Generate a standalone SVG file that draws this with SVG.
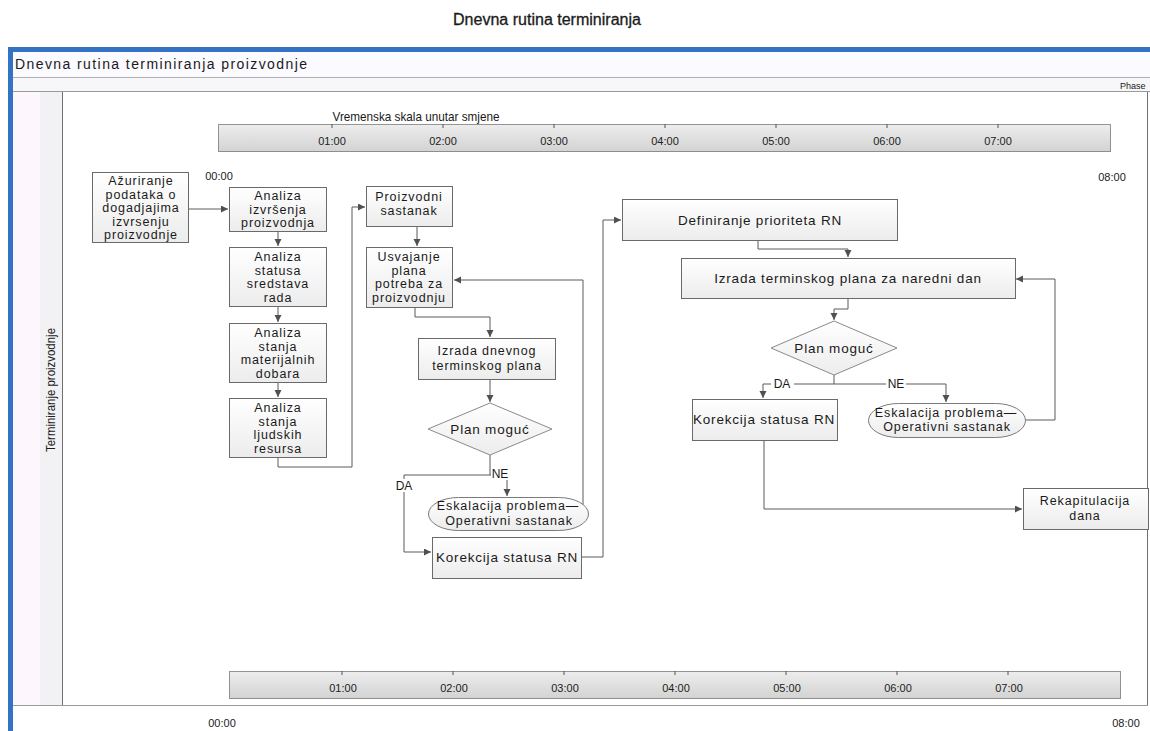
<svg xmlns="http://www.w3.org/2000/svg" width="1150" height="731" viewBox="0 0 1150 731">
<style>
.t{font-family:"Liberation Sans",Arial,sans-serif;fill:#1a1a1a}
.n{font-size:13.5px;letter-spacing:0.8px;text-anchor:middle}
.m{font-size:12.5px;letter-spacing:0.9px;text-anchor:middle}
.box{fill:url(#bg);stroke:#6a6a6a;stroke-width:1}
.c{fill:none;stroke:#5a5a5a;stroke-width:1}
.tm{font-size:11px;text-anchor:middle;fill:#222}
.lbl{font-size:12px;text-anchor:middle}
</style>
<defs>
<linearGradient id="bg" x1="0" y1="0" x2="0" y2="1"><stop offset="0" stop-color="#ffffff"/><stop offset="1" stop-color="#ececec"/></linearGradient>
<linearGradient id="tg" x1="0" y1="0" x2="0" y2="1"><stop offset="0" stop-color="#ededed"/><stop offset="1" stop-color="#d3d3d3"/></linearGradient>
<marker id="a" markerWidth="8" markerHeight="8" refX="7" refY="3.5" orient="auto" markerUnits="userSpaceOnUse"><path d="M0,0 L7,3.5 L0,7 z" fill="#505050"/></marker>
</defs>
<rect width="1150" height="731" fill="#ffffff"/>
<text class="t" x="547" y="25" font-size="16" text-anchor="middle" textLength="188" lengthAdjust="spacingAndGlyphs" stroke="#1a1a1a" stroke-width="0.3">Dnevna rutina terminiranja</text>

<g id="frame">
<rect x="13" y="52" width="1140" height="25" fill="#fbfaff"/>
<line x1="13" y1="77.5" x2="1150" y2="77.5" stroke="#b0b0b0"/>
<rect x="13" y="78" width="1140" height="13" fill="#f7f7f9"/>
<line x1="13" y1="91.5" x2="1150" y2="91.5" stroke="#9a9a9a"/>
<text class="t" x="15" y="69" font-size="14" textLength="292" lengthAdjust="spacing">Dnevna rutina terminiranja proizvodnje</text>
<text class="t" x="1120" y="89" font-size="9">Phase</text>
<rect x="13" y="92" width="27" height="613" fill="#fdf7fd"/>
<rect x="40" y="92" width="22" height="613" fill="#f2f2f4"/>
<line x1="62.5" y1="92" x2="62.5" y2="705" stroke="#707070"/>
<line x1="13" y1="705.5" x2="1148" y2="705.5" stroke="#9a9a9a"/>
<line x1="1147.5" y1="92" x2="1147.5" y2="705" stroke="#707070"/>
<text class="t" transform="translate(55,390) rotate(-90)" font-size="12" text-anchor="middle" textLength="124" lengthAdjust="spacingAndGlyphs">Terminiranje proizvodnje</text>
<rect x="10.5" y="49.5" width="1150" height="700" fill="none" stroke="#3472c4" stroke-width="5"/>
</g>

<g id="timescale-top">
<text class="t" x="416" y="121" font-size="13" text-anchor="middle" textLength="167" lengthAdjust="spacingAndGlyphs">Vremenska skala unutar smjene</text>
<rect x="218.5" y="124.5" width="892" height="27" fill="url(#tg)" stroke="#333" stroke-dasharray="1,1"/>
<g stroke="#555"><line x1="332" y1="124" x2="332" y2="128"/><line x1="443" y1="124" x2="443" y2="128"/><line x1="554" y1="124" x2="554" y2="128"/><line x1="665" y1="124" x2="665" y2="128"/><line x1="776" y1="124" x2="776" y2="128"/><line x1="887" y1="124" x2="887" y2="128"/><line x1="998" y1="124" x2="998" y2="128"/></g>
<text class="t tm" x="332" y="145">01:00</text><text class="t tm" x="443" y="145">02:00</text><text class="t tm" x="554" y="145">03:00</text><text class="t tm" x="665" y="145">04:00</text><text class="t tm" x="776" y="145">05:00</text><text class="t tm" x="887" y="145">06:00</text><text class="t tm" x="998" y="145">07:00</text>
<text class="t tm" x="219" y="180" font-size="10">00:00</text>
<text class="t tm" x="1112" y="181">08:00</text>
</g>

<g id="timescale-bottom">
<rect x="229.5" y="671.5" width="891" height="27" fill="url(#tg)" stroke="#333" stroke-dasharray="1,1"/>
<g stroke="#555"><line x1="342" y1="671" x2="342" y2="675"/><line x1="453" y1="671" x2="453" y2="675"/><line x1="564" y1="671" x2="564" y2="675"/><line x1="675" y1="671" x2="675" y2="675"/><line x1="786" y1="671" x2="786" y2="675"/><line x1="897" y1="671" x2="897" y2="675"/><line x1="1008" y1="671" x2="1008" y2="675"/></g>
<text class="t tm" x="343" y="692">01:00</text><text class="t tm" x="454" y="692">02:00</text><text class="t tm" x="565" y="692">03:00</text><text class="t tm" x="676" y="692">04:00</text><text class="t tm" x="787" y="692">05:00</text><text class="t tm" x="898" y="692">06:00</text><text class="t tm" x="1009" y="692">07:00</text>
<text class="t tm" x="222" y="727" font-size="10">00:00</text>
<text class="t tm" x="1126" y="727" font-size="10">08:00</text>
</g>

<g id="connectors">
<path class="c" d="M189,209 H228" marker-end="url(#a)"/>
<path class="c" d="M278,232 V246" marker-end="url(#a)"/>
<path class="c" d="M278,307 V322" marker-end="url(#a)"/>
<path class="c" d="M278,383 V397" marker-end="url(#a)"/>
<path class="c" d="M278,458 V467 H352 V207 H365" marker-end="url(#a)"/>
<path class="c" d="M417,227 V246" marker-end="url(#a)"/>
<path class="c" d="M415,308 V317 H490 V337" marker-end="url(#a)"/>
<path class="c" d="M490,380 V402" marker-end="url(#a)"/>
<path class="c" d="M490,455 V475 H404 V552 H431" marker-end="url(#a)"/>
<path class="c" d="M490,475 H507 V496" marker-end="url(#a)"/>
<path class="c" d="M583,506 V280 H454" marker-end="url(#a)"/>
<path class="c" d="M581,557 H603 V220 H621" marker-end="url(#a)"/>
<path class="c" d="M758,240 V249 H848 V257" marker-end="url(#a)"/>
<path class="c" d="M848,298 V309 H834 V320" marker-end="url(#a)"/>
<path class="c" d="M834,375 V384 H763 V398" marker-end="url(#a)"/>
<path class="c" d="M834,384 H946 V402" marker-end="url(#a)"/>
<path class="c" d="M1025,420 H1055 V279 H1016" marker-end="url(#a)"/>
<path class="c" d="M764,440 V509 H1022" marker-end="url(#a)"/>
<rect x="393" y="479" width="22" height="13" fill="#fff"/>
<text class="t lbl" x="404" y="490">DA</text>
<rect x="491" y="467" width="19" height="13" fill="#fff"/>
<text class="t lbl" x="500" y="478">NE</text>
<rect x="771" y="377" width="23" height="13" fill="#fff"/>
<text class="t lbl" x="782" y="388">DA</text>
<rect x="886" y="377" width="20" height="13" fill="#fff"/>
<text class="t lbl" x="896" y="388">NE</text>
</g>

<g id="n1"><rect class="box" x="92.5" y="172.5" width="96" height="70"/>
<text class="t m" x="141" y="185">Ažuriranje</text><text class="t m" x="141" y="198.5">podataka o</text><text class="t m" x="141" y="212">dogadjajima</text><text class="t m" x="141" y="225.5">izvrsenju</text><text class="t m" x="141" y="239">proizvodnje</text></g>
<g id="n2"><rect class="box" x="229.5" y="187.5" width="97" height="44"/>
<text class="t m" x="278" y="200">Analiza</text><text class="t m" x="278" y="213.5">izvršenja</text><text class="t m" x="278" y="227">proizvodnja</text></g>
<g id="n3"><rect class="box" x="229.5" y="247.5" width="97" height="59"/>
<text class="t m" x="278" y="261">Analiza</text><text class="t m" x="278" y="274.5">statusa</text><text class="t m" x="278" y="288">sredstava</text><text class="t m" x="278" y="301.5">rada</text></g>
<g id="n4"><rect class="box" x="229.5" y="323.5" width="97" height="59"/>
<text class="t m" x="278" y="337">Analiza</text><text class="t m" x="278" y="350.5">stanja</text><text class="t m" x="278" y="364">materijalnih</text><text class="t m" x="278" y="377.5">dobara</text></g>
<g id="n5"><rect class="box" x="229.5" y="398.5" width="97" height="59"/>
<text class="t m" x="278" y="412">Analiza</text><text class="t m" x="278" y="425.5">stanja</text><text class="t m" x="278" y="439">ljudskih</text><text class="t m" x="278" y="452.5">resursa</text></g>

<g id="p1"><rect class="box" x="366.5" y="186.5" width="86" height="40"/>
<text class="t m" x="409" y="201">Proizvodni</text><text class="t m" x="409" y="215">sastanak</text></g>
<g id="p2"><rect class="box" x="366.5" y="247.5" width="86" height="60"/>
<text class="t m" x="409" y="261">Usvajanje</text><text class="t m" x="409" y="274.5">plana</text><text class="t m" x="409" y="288">potreba za</text><text class="t m" x="409" y="301.5">proizvodnju</text></g>
<g id="p3"><rect class="box" x="418.5" y="338.5" width="137" height="41"/>
<text class="t m" x="487" y="355">Izrada dnevnog</text><text class="t m" x="487" y="370">terminskog plana</text></g>
<g id="d1"><polygon points="490,403 552,429 490,455 428,429" fill="url(#bg)" stroke="#8a8a8a"/>
<text class="t n" x="490" y="434">Plan moguć</text></g>
<g id="e1"><rect x="428.5" y="497.5" width="160" height="33" rx="30" ry="16.5" fill="url(#bg)" stroke="#7a7a7a"/>
<text class="t m" x="508" y="510">Eskalacija problema—</text><text class="t m" x="509" y="524.5">Operativni sastanak</text></g>
<g id="k1"><rect class="box" x="432.5" y="537.5" width="149" height="41"/>
<text class="t n" x="507" y="562">Korekcija statusa RN</text></g>

<g id="r1"><rect class="box" x="622.5" y="199.5" width="275" height="41"/>
<text class="t n" x="760" y="225">Definiranje prioriteta RN</text></g>
<g id="r2"><rect class="box" x="681.5" y="258.5" width="334" height="40"/>
<text class="t n" x="848" y="283">Izrada terminskog plana za naredni dan</text></g>
<g id="d2"><polygon points="834,321 897,348 834,375 771,348" fill="url(#bg)" stroke="#8a8a8a"/>
<text class="t n" x="834" y="353">Plan moguć</text></g>
<g id="k2"><rect class="box" x="692.5" y="399.5" width="145" height="41"/>
<text class="t n" x="764" y="424">Korekcija statusa RN</text></g>
<g id="e2"><rect x="868.5" y="403.5" width="157" height="34" rx="30" ry="17" fill="url(#bg)" stroke="#7a7a7a"/>
<text class="t m" x="946" y="416.5">Eskalacija problema—</text><text class="t m" x="947" y="431">Operativni sastanak</text></g>
<g id="rek"><rect class="box" x="1023.5" y="488.5" width="125" height="41"/>
<text class="t m" x="1085" y="505">Rekapitulacija</text><text class="t m" x="1085" y="519.5">dana</text></g>
</svg>
